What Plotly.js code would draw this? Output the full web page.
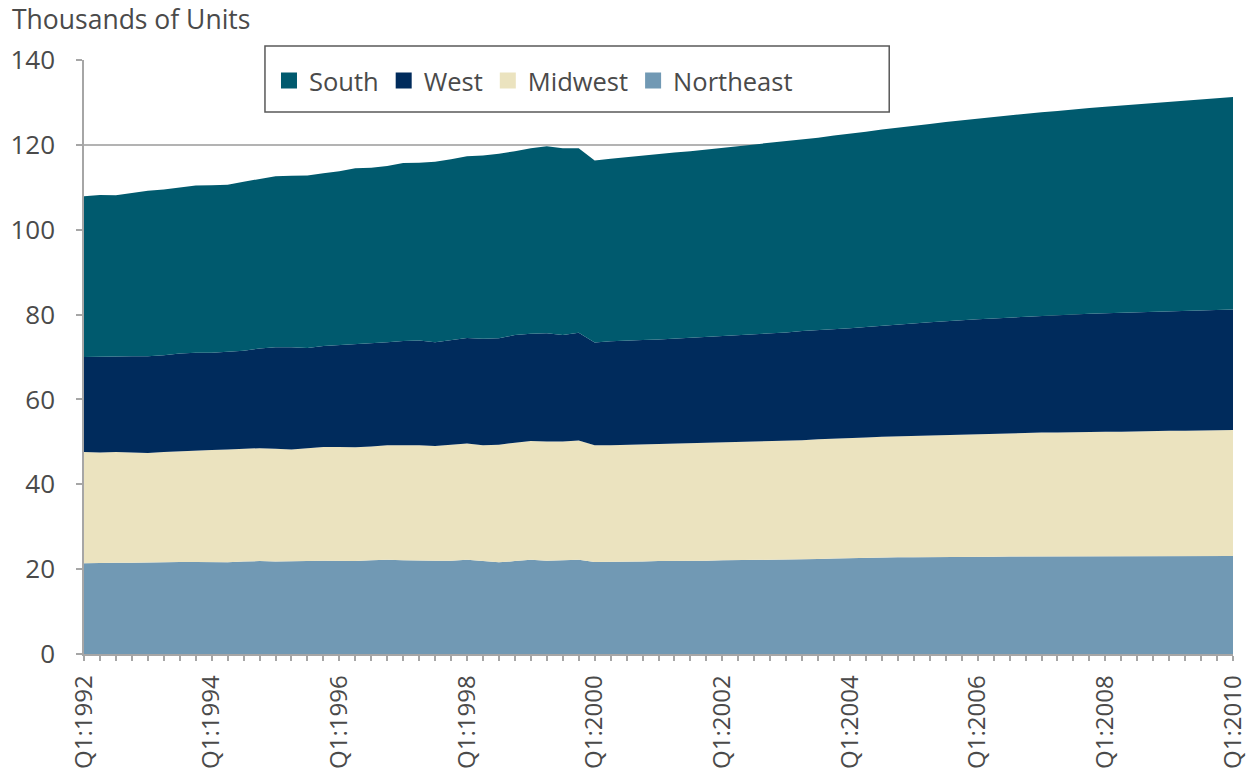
<!DOCTYPE html>
<html>
<head>
<meta charset="utf-8">
<script src="https://cdn.plot.ly/plotly-3.0.1.min.js"></script>
<style>
  html, body { margin: 0; padding: 0; background: #ffffff; }
  #chart { width: 1249px; height: 778px; }
</style>
</head>
<body>
<div id="chart"></div>
<script>
// Quarterly categories Q1:1992 .. Q1:2010
const quarters = [];
for (let y = 1992; y <= 2010; y++) {
  for (let q = 1; q <= 4; q++) {
    if (y === 2010 && q > 1) break;
    quarters.push('Q' + q + ':' + y);
  }
}
const tickLabels = ['Q1:1992','Q1:1994','Q1:1996','Q1:1998','Q1:2000','Q1:2002','Q1:2004','Q1:2006','Q1:2008','Q1:2010'];

// Thousands of units, by region
const northeast = [21.4,21.5,21.5,21.5,21.6,21.6,21.7,21.7,21.7,21.6,
  21.8,21.9,21.8,21.8,21.9,22.0,22.0,21.9,22.1,22.2,
  22.1,22.0,22.0,22.0,22.2,21.9,21.6,21.9,22.2,22.0,
  22.1,22.2,21.7,21.7,21.8,21.8,21.9,21.9,22.0,22.0,
  22.1,22.1,22.2,22.2,22.3,22.3,22.4,22.5,22.6,22.6,
  22.7,22.8,22.8,22.8,22.9,22.9,22.9,22.9,23.0,23.0,
  23.0,23.0,23.0,23.0,23.0,23.0,23.1,23.1,23.1,23.1,
  23.1,23.1,23.1];
const midwest = [26.2,26.0,26.1,26.0,25.8,26.0,26.1,26.3,26.4,26.6,
  26.6,26.6,26.6,26.4,26.6,26.8,26.8,26.8,26.8,27.0,
  27.1,27.2,27.0,27.3,27.4,27.3,27.7,27.9,28.0,28.1,
  28.0,28.1,27.5,27.5,27.5,27.6,27.6,27.7,27.6,27.7,
  27.7,27.8,27.8,28.0,28.0,28.1,28.2,28.2,28.3,28.4,
  28.5,28.5,28.7,28.8,28.8,28.9,29.0,29.1,29.0,29.1,
  29.2,29.2,29.3,29.3,29.4,29.4,29.4,29.4,29.5,29.5,
  29.6,29.6,29.7];
const west = [22.4,22.6,22.5,22.7,22.8,22.8,23.0,23.0,22.9,23.0,
  23.1,23.5,23.9,24.1,23.6,23.8,24.0,24.3,24.3,24.3,
  24.6,24.7,24.5,24.7,24.9,25.1,25.1,25.4,25.3,25.5,
  25.1,25.4,24.2,24.5,24.6,24.6,24.6,24.7,24.9,25.0,
  25.1,25.2,25.3,25.4,25.5,25.7,25.7,25.9,25.9,26.1,
  26.2,26.4,26.4,26.6,26.7,26.9,27.0,27.1,27.3,27.4,
  27.5,27.7,27.7,27.9,27.9,28.0,28.1,28.2,28.2,28.3,
  28.3,28.4,28.4];
const south = [37.9,38.1,38.0,38.5,39.0,39.1,39.2,39.4,39.5,39.4,
  39.8,40.0,40.3,40.4,40.7,40.7,41.0,41.5,41.4,41.5,
  41.9,41.9,42.5,42.6,42.8,43.2,43.5,43.3,43.7,44.1,
  44.0,43.5,42.9,43.0,43.2,43.5,43.7,43.9,44.0,44.2,
  44.3,44.5,44.7,44.8,45.0,45.2,45.4,45.6,45.8,46.0,
  46.2,46.3,46.6,46.7,47.0,47.1,47.3,47.5,47.7,47.8,
  48.0,48.1,48.4,48.5,48.7,48.9,49.0,49.2,49.4,49.6,
  49.8,49.9,50.1];

const seriesNames = ['Northeast','Midwest','West','South'];
const seriesData = [northeast, midwest, west, south];
const colors = {South:'#005a6e', West:'#002b5c', Midwest:'#ebe3bf', Northeast:'#7199b4'};

const traces = [];
seriesNames.forEach((name, k) => {
  traces.push({
    type: 'scatter', mode: 'lines', name: name,
    x: quarters, y: seriesData[k],
    stackgroup: 'one',
    line: {width: 0, color: colors[name]},
    fillcolor: colors[name],
    showlegend: false,
    hovertemplate: name + ': %{y:.1f}<extra>%{x}</extra>'
  });
});
// legend entries (square swatches), in reference order
['South','West','Midwest','Northeast'].forEach(name => {
  traces.push({
    type: 'scatter', mode: 'markers', name: name,
    x: [null], y: [null],
    marker: {symbol: 'square', size: 20, color: colors[name]},
    showlegend: true, hoverinfo: 'skip'
  });
});

const textColor = '#4a4a4a';
const axisGray = '#a6a6a6';
const layout = {
  width: 1249, height: 778,
  margin: {l: 84, r: 16, t: 60, b: 124},
  paper_bgcolor: '#ffffff', plot_bgcolor: '#ffffff',
  font: {family: '"Open Sans", "Noto Sans", sans-serif', color: textColor, size: 24},
  title: {
    text: 'Thousands of Units',
    x: 0.0096, xref: 'container', xanchor: 'left',
    y: 0.975, yref: 'container', yanchor: 'middle',
    font: {size: 26.5, color: textColor}
  },
  xaxis: {
    type: 'category',
    range: [0, quarters.length - 1],
    tickmode: 'array',
    tickvals: quarters,
    ticktext: quarters.map(q => tickLabels.includes(q) ? q : ''),
    tickangle: -90,
    ticks: 'outside', ticklen: 5, tickwidth: 1.5, tickcolor: axisGray,
    ticklabelstandoff: 5,
    showline: true, linecolor: axisGray, linewidth: 1.5,
    showgrid: false, zeroline: false,
    tickfont: {size: 24, color: textColor},
    fixedrange: true
  },
  yaxis: {
    range: [0, 140],
    tickmode: 'linear', tick0: 0, dtick: 20,
    ticks: 'outside', ticklen: 6, tickwidth: 1.5, tickcolor: axisGray,
    ticklabelstandoff: 16,
    showline: true, linecolor: axisGray, linewidth: 1.5,
    showgrid: true, gridcolor: '#b3b3b3', gridwidth: 1.5,
    zeroline: false,
    tickfont: {size: 26, color: textColor},
    fixedrange: true
  },
  legend: {
    orientation: 'h',
    x: 0.161, xanchor: 'left',
    y: 0.9646, yanchor: 'middle',
    bgcolor: 'rgba(0,0,0,0)', borderwidth: 0,
    font: {size: 25.5, color: textColor},
    traceorder: 'normal',
    itemclick: false, itemdoubleclick: false
  },
  shapes: [{
    type: 'rect', xref: 'paper', yref: 'paper',
    x0: 0.1575, x1: 0.7008, y0: 0.9125, y1: 1.0236,
    line: {color: '#595959', width: 1.5},
    fillcolor: '#ffffff', layer: 'above'
  }],
  showlegend: true,
  hovermode: 'closest'
};

Plotly.newPlot('chart', traces, layout, {displayModeBar: false, responsive: false});
</script>
</body>
</html>
